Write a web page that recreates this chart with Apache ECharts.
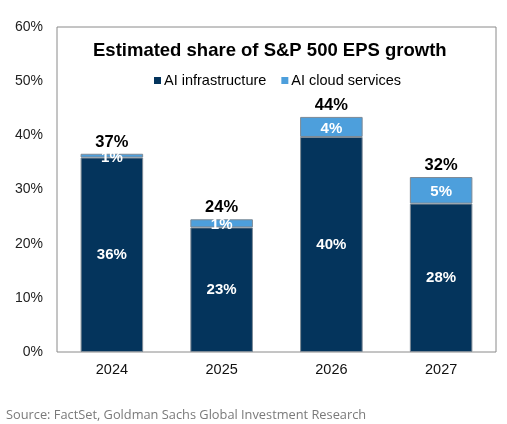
<!DOCTYPE html>
<html lang="en">
<head>
    <meta charset="utf-8">
    <title>Estimated share of S&amp;P 500 EPS growth</title>
    <script src="https://cdn.jsdelivr.net/npm/echarts@6/dist/echarts.min.js"></script>
    <style>
        html, body { margin: 0; padding: 0; background: #fff; }
        #main { width: 507px; height: 424px; }
    </style>
</head>
<body>
    <div id="main"></div>
    <script type="text/javascript">
        // data (bar heights in %)
        var years = ['2024', '2025', '2026', '2027'];
        var infra = [35.9, 23.0, 39.7, 27.4];
        var cloud = [0.7, 1.5, 3.7, 4.9];
        // printed labels
        var infraLabels = ['36%', '23%', '40%', '28%'];
        var cloudLabels = ['1%', '1%', '4%', '5%'];
        var totalLabels = ['37%', '24%', '44%', '32%'];
        var yTicks = [0, 10, 20, 30, 40, 50, 60];

        var navy = '#04345c';
        var blue = '#4d9fdc';
        var edge = '#7d8a96';

        var myChart = echarts.init(document.getElementById('main'));

        myChart.setOption({
            animation: false,
            textStyle: { fontFamily: 'Liberation Sans, Arial, sans-serif' },
            title: [{
                text: 'Estimated share of S&P 500 EPS growth',
                left: 88,
                top: 36,
                textStyle: { fontSize: 18.5, fontWeight: 'bold', color: '#000' }
            }, {
                text: 'Source: FactSet, Goldman Sachs Global Investment Research',
                left: 1,
                top: 404,
                textStyle: { fontSize: 12.8, fontWeight: 'normal', color: '#7a7a7a', fontFamily: 'Open Sans' }
            }],
            legend: {
                data: ['AI infrastructure', 'AI cloud services'],
                top: 68,
                left: 149,
                itemWidth: 7,
                itemHeight: 7,
                itemGap: 15,
                icon: 'rect',
                itemStyle: { borderWidth: 0 },
                textStyle: { fontSize: 14.5, color: '#000', padding: [0, 0, 0, -2] }
            },
            grid: {
                left: 57, right: 11, top: 27, bottom: 72,
                show: true, borderColor: '#8a8a8a', borderWidth: 1,
                containLabel: false
            },
            xAxis: {
                type: 'category',
                data: years,
                axisLine: { show: false },
                axisTick: { show: false },
                axisLabel: { fontSize: 14.5, color: '#111', margin: 10 }
            },
            yAxis: {
                type: 'value',
                min: yTicks[0],
                max: yTicks[yTicks.length - 1],
                interval: 10,
                splitLine: { show: false },
                axisLine: { show: false },
                axisTick: { show: false },
                axisLabel: { fontSize: 14, color: '#222', margin: 14, formatter: '{value}%' }
            },
            series: [{
                name: 'AI infrastructure',
                type: 'bar',
                stack: 'eps',
                barWidth: '57%',
                data: infra,
                itemStyle: { color: navy, borderColor: edge, borderWidth: 1 },
                label: {
                    show: true, position: 'inside', color: '#fff',
                    fontSize: 15, fontWeight: 'bold',
                    formatter: function (p) { return infraLabels[p.dataIndex]; }
                }
            }, {
                name: 'AI cloud services',
                type: 'bar',
                stack: 'eps',
                data: cloud,
                itemStyle: { color: blue, borderColor: edge, borderWidth: 1 },
                label: {
                    show: true, position: 'inside', color: '#fff',
                    fontSize: 15, fontWeight: 'bold', offset: [0, 2],
                    formatter: function (p) { return cloudLabels[p.dataIndex]; }
                }
            }, {
                name: 'total',
                type: 'bar',
                stack: 'eps',
                data: [0, 0, 0, 0],
                silent: true,
                itemStyle: { color: 'transparent' },
                label: {
                    show: true, position: 'top', color: '#000', distance: 3,
                    fontSize: 16.5, fontWeight: 'bold',
                    formatter: function (p) { return totalLabels[p.dataIndex]; }
                }
            }]
        });
    </script>
</body>
</html>
